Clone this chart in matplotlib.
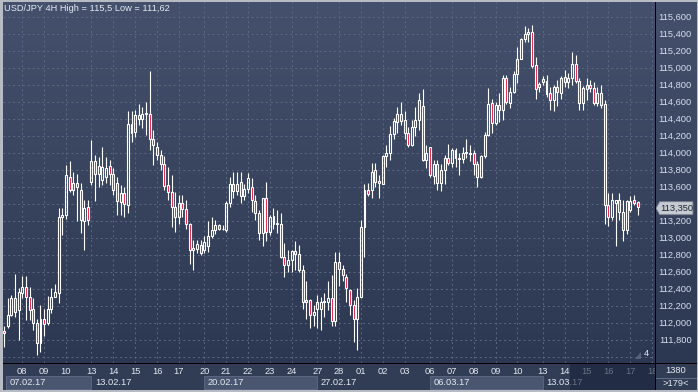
# USD/JPY 4H candlestick chart, dark terminal style
import numpy as np
import matplotlib.pyplot as plt
from matplotlib.patches import Rectangle, Polygon
from matplotlib.colors import LinearSegmentedColormap
from matplotlib.transforms import blended_transform_factory

TITLE = 'USD/JPY 4H High = 115,5 Low = 111,62'

opens = [111.90, 111.96, 112.09, 112.29, 112.15, 112.35, 112.42, 112.30, 112.17, 112.00,
         111.76, 112.05, 112.00, 112.16, 112.31, 112.35, 113.25, 113.27, 113.72, 113.56,
         113.65, 113.56, 113.20, 113.37, 113.66, 113.90, 113.75, 113.68, 113.72, 113.85,
         113.75, 113.65, 113.42, 113.53, 113.39, 114.34, 114.25, 114.45, 114.40, 114.46,
         114.46, 114.17, 114.07, 113.98, 113.87, 113.62, 113.54, 113.37, 113.25, 113.41,
         113.34, 113.17, 112.86, 112.87, 112.92, 112.86, 112.90, 113.02, 113.09, 113.15,
         113.10, 113.09, 113.41, 113.64, 113.55, 113.66, 113.49, 113.58, 113.60, 113.43,
         113.29, 113.06, 113.47, 113.07, 113.26, 113.17, 113.17, 112.78, 112.68, 112.74,
         112.85, 112.81, 112.62, 112.25, 112.27, 112.09, 112.16, 112.17, 112.25, 112.25,
         112.29, 112.02, 112.72, 112.64, 112.54, 112.39, 112.21, 112.05, 112.31, 113.13,
         113.57, 113.57, 113.80, 113.67, 113.64, 113.96, 114.00, 114.22, 114.37, 114.46,
         114.39, 114.24, 114.09, 114.30, 114.39, 114.55, 113.92, 114.07, 113.73, 113.87,
         113.65, 113.80, 113.94, 113.88, 114.04, 113.94, 113.93, 114.00, 114.00, 114.00,
         113.87, 113.72, 113.96, 114.21, 114.59, 114.35, 114.57, 114.51, 114.88, 114.59,
         114.72, 114.93, 115.11, 115.34, 115.40, 115.42, 115.04, 114.81, 114.84, 114.85,
         114.70, 114.62, 114.78, 114.71, 114.89, 114.83, 114.88, 115.05, 114.85, 114.59,
         114.75, 114.80, 114.76, 114.59, 114.70, 114.58, 113.39, 113.25, 113.41, 113.45,
         113.31, 113.09, 113.33, 113.45, 113.42]
highs = [111.96, 112.29, 112.33, 112.58, 112.41, 112.55, 112.55, 112.42, 112.29, 112.05,
         112.21, 112.16, 112.32, 112.41, 112.46, 113.35, 113.35, 113.86, 113.90, 113.78,
         113.75, 113.65, 113.45, 113.45, 114.15, 113.98, 113.95, 114.07, 113.95, 113.92,
         113.82, 113.72, 113.62, 113.60, 114.49, 114.49, 114.50, 114.58, 114.54, 114.60,
         114.96, 114.27, 114.13, 114.04, 113.96, 113.84, 113.74, 113.54, 113.51, 113.51,
         113.45, 113.18, 112.98, 112.98, 112.98, 113.02, 113.20, 113.25, 113.21, 113.17,
         113.15, 113.43, 113.72, 113.78, 113.78, 113.78, 113.64, 113.76, 113.70, 113.50,
         113.33, 113.47, 113.66, 113.27, 113.35, 113.33, 113.29, 112.94, 112.86, 112.86,
         112.96, 112.92, 112.68, 112.49, 112.28, 112.21, 112.33, 112.30, 112.35, 112.49,
         112.56, 112.84, 112.84, 112.68, 112.58, 112.40, 112.27, 112.41, 113.21, 113.64,
         113.65, 113.88, 113.88, 113.74, 113.98, 114.09, 114.32, 114.41, 114.54, 114.60,
         114.49, 114.31, 114.39, 114.54, 114.70, 114.75, 114.09, 114.07, 113.92, 113.92,
         113.87, 113.98, 114.11, 114.06, 114.06, 114.00, 114.07, 114.16, 114.09, 114.04,
         113.90, 113.98, 114.25, 114.76, 114.63, 114.60, 114.70, 114.92, 114.92, 114.78,
         114.96, 115.25, 115.35, 115.49, 115.47, 115.50, 115.13, 114.84, 114.90, 114.92,
         114.78, 114.80, 114.86, 114.90, 114.98, 114.94, 115.19, 115.15, 114.88, 114.79,
         114.88, 114.86, 114.84, 114.78, 114.80, 114.62, 113.53, 113.53, 113.45, 113.53,
         113.45, 113.45, 113.49, 113.51, 113.43]
lows = [111.72, 111.94, 112.08, 112.07, 111.80, 112.29, 112.04, 112.04, 111.92, 111.62,
        111.66, 111.85, 111.98, 112.12, 112.31, 112.23, 113.04, 113.22, 113.54, 113.50,
        113.20, 113.06, 112.86, 113.15, 113.62, 113.43, 113.60, 113.62, 113.65, 113.62,
        113.50, 113.27, 113.27, 113.25, 113.29, 114.13, 114.19, 114.33, 114.29, 114.21,
        114.04, 113.86, 113.92, 113.80, 113.56, 113.45, 113.13, 113.07, 113.17, 113.25,
        113.11, 112.69, 112.62, 112.82, 112.80, 112.82, 112.84, 113.00, 113.05, 113.09,
        113.09, 113.07, 113.37, 113.47, 113.50, 113.41, 113.45, 113.53, 113.31, 113.21,
        112.98, 112.90, 112.96, 113.03, 113.11, 113.06, 112.76, 112.54, 112.60, 112.60,
        112.62, 112.60, 112.17, 112.05, 111.94, 111.96, 111.94, 111.92, 112.07, 112.15,
        111.96, 111.96, 112.43, 112.49, 112.25, 112.09, 111.78, 111.68, 112.30, 112.78,
        113.49, 113.47, 113.60, 113.47, 113.64, 113.83, 113.92, 114.17, 114.24, 114.33,
        114.17, 114.07, 114.08, 114.20, 114.27, 113.91, 113.82, 113.72, 113.64, 113.57,
        113.55, 113.64, 113.86, 113.83, 113.83, 113.74, 113.88, 113.94, 113.90, 113.74,
        113.60, 113.70, 113.94, 114.20, 114.23, 114.33, 114.37, 114.39, 114.58, 114.53,
        114.70, 114.82, 115.10, 115.31, 115.31, 115.00, 114.64, 114.72, 114.80, 114.66,
        114.51, 114.49, 114.55, 114.64, 114.78, 114.76, 114.80, 114.82, 114.51, 114.51,
        114.62, 114.72, 114.57, 114.55, 114.53, 113.17, 113.14, 113.21, 112.90, 113.21,
        112.97, 113.05, 113.31, 113.39, 113.27]
closes = [111.88, 112.09, 112.29, 112.13, 112.37, 112.42, 112.31, 112.15, 112.00, 111.76,
          112.05, 111.99, 112.16, 112.31, 112.36, 113.25, 113.27, 113.74, 113.56, 113.65,
          113.60, 113.21, 113.35, 113.21, 113.90, 113.75, 113.85, 113.84, 113.82, 113.75,
          113.56, 113.43, 113.53, 113.40, 114.34, 114.23, 114.45, 114.40, 114.46, 114.47,
          114.17, 114.09, 113.98, 113.87, 113.61, 113.54, 113.37, 113.25, 113.41, 113.34,
          113.17, 112.86, 112.88, 112.93, 112.82, 112.95, 113.02, 113.09, 113.15, 113.11,
          113.11, 113.41, 113.64, 113.55, 113.64, 113.49, 113.58, 113.70, 113.45, 113.29,
          113.06, 113.47, 113.07, 113.25, 113.17, 113.18, 112.78, 112.68, 112.74, 112.85,
          112.81, 112.62, 112.25, 112.27, 112.09, 112.13, 112.25, 112.25, 112.25, 112.29,
          112.02, 112.72, 112.64, 112.56, 112.41, 112.21, 112.05, 112.31, 113.13, 113.57,
          113.52, 113.78, 113.66, 113.65, 113.96, 114.00, 114.22, 114.38, 114.46, 114.38,
          114.24, 114.09, 114.30, 114.39, 114.62, 113.92, 114.00, 113.74, 113.87, 113.65,
          113.80, 113.94, 113.88, 114.04, 113.94, 113.93, 114.00, 114.01, 113.99, 113.87,
          113.72, 113.96, 114.21, 114.58, 114.35, 114.57, 114.51, 114.88, 114.60, 114.72,
          114.93, 115.11, 115.34, 115.40, 115.42, 115.02, 114.75, 114.78, 114.87, 114.69,
          114.62, 114.78, 114.72, 114.88, 114.83, 114.88, 115.05, 114.85, 114.59, 114.76,
          114.80, 114.76, 114.59, 114.70, 114.57, 113.39, 113.25, 113.45, 113.45, 113.31,
          113.09, 113.43, 113.43, 113.41, 113.36]

day_labels = ['08', '09', '10', '13', '14', '15', '16', '17', '20', '21', '22', '23', '24',
              '27', '28', '01', '02', '03', '06', '07', '08', '09', '10', '13', '14', '15',
              '16', '17', '18']
day_pos = [5, 11, 17, 24, 30, 36, 42, 48, 55, 61, 67, 73, 79, 86, 92, 98, 104, 110,
           117, 123, 129, 135, 141, 148, 154, 160, 166, 172, 178]
week_labels = ['07.02.17', '13.02.17', '20.02.17', '27.02.17', '06.03.17', '13.03.17']
week_pos = [-7, 24, 55, 86, 117, 148]
# 113,400 sits under the last-price tag, so it is left out
price_ticks = [111.8, 112.0, 112.2, 112.4, 112.6, 112.8, 113.0, 113.2, 113.6,
               113.8, 114.0, 114.2, 114.4, 114.6, 114.8, 115.0, 115.2, 115.4, 115.6]
grid_levels = [111.6, 111.8, 112.0, 112.2, 112.4, 112.6, 112.8, 113.0, 113.2, 113.4,
               113.6, 113.8, 114.0, 114.2, 114.4, 114.6, 114.8, 115.0, 115.2, 115.4, 115.6]
last_price = 113.35

W, H = 698, 392
FONT = 'Liberation Sans'
FS = 6.7
RED = '#e8173c'
TXT = '#e4e9f1'


def box(x0, y0, x1, y1):
    # pixel box (top-left origin) -> figure fraction rect
    return [x0 / W, 1 - y1 / H, (x1 - x0) / W, (y1 - y0) / H]


def gradient(a, top='#45516c', bottom='#2c3751'):
    cmap = LinearSegmentedColormap.from_list('bg', [top, bottom])
    a.imshow(np.linspace(0, 1, 256).reshape(-1, 1), cmap=cmap, aspect='auto',
             extent=(0, 1, 0, 1), transform=a.transAxes, zorder=0)


def create():
    fig = plt.figure(figsize=(W / 100, H / 100), dpi=100)
    fig.patch.set_facecolor('#b6bbc4')

    ax = fig.add_axes(box(3, 2, 655, 363))
    axr = fig.add_axes(box(656, 2, 697, 363))
    axb = fig.add_axes(box(3, 364, 655, 390))
    axbr = fig.add_axes(box(656, 364, 697, 390))
    for a in (ax, axr, axb, axbr):
        a.set_axis_off()

    xlim = (-0.3, 178.8)
    ylim = (111.529, 115.776)

    # main plot
    gradient(ax)
    ax.set_xlim(xlim)
    ax.set_ylim(ylim)
    ax.hlines(grid_levels, xlim[0], xlim[1], colors='#5c6884', lw=0.7,
              linestyles=(0, (2, 3)), zorder=1)
    ax.vlines(day_pos, ylim[0], ylim[1], colors='#5c6884', lw=0.7,
              linestyles=(0, (2, 3)), zorder=1)

    o = np.array(opens)
    h = np.array(highs)
    lo = np.array(lows)
    c = np.array(closes)
    x = np.arange(len(o))
    top = np.maximum(o, c)
    bot = np.minimum(o, c)
    ax.vlines(x, top, h, colors='white', lw=0.8, zorder=3)
    ax.vlines(x, lo, bot, colors='white', lw=0.8, zorder=3)
    for i in x:
        fc = RED if c[i] < o[i] else 'none'
        ax.add_patch(Rectangle((i - 0.27, bot[i]), 0.54, max(top[i] - bot[i], 0.004),
                               facecolor=fc, edgecolor='white', lw=0.8, zorder=4))

    ax.text(0.002, 0.982, TITLE, transform=ax.transAxes, ha='left', va='center',
            fontsize=FS, color=TXT, family=FONT)
    ax.text(0.986, 0.014, '4', transform=ax.transAxes, ha='center', va='bottom',
            fontsize=FS, color=TXT, family=FONT)
    ax.add_patch(Polygon([(0.970, 0.012), (0.978, 0.012), (0.978, 0.030)], closed=True,
                         transform=ax.transAxes, facecolor='#56617b', edgecolor='none', zorder=5))

    # price scale
    gradient(axr)
    axr.set_ylim(ylim)
    axr.set_xlim(0, 1)
    for p in price_ticks:
        axr.text(0.47, p, f'{p:.3f}'.replace('.', ','), ha='center', va='center',
                 fontsize=FS, color='#d3deec', family=FONT)
    tr = blended_transform_factory(axr.transAxes, axr.transData)
    dh = 6.5 / 85
    tag = Polygon([(0.0, last_price), (0.09, last_price + dh), (0.9, last_price + dh),
                   (0.9, last_price - dh), (0.09, last_price - dh)], closed=True,
                  transform=tr, facecolor='#c6cad2', edgecolor='#7d8390', lw=0.6, zorder=5)
    axr.add_patch(tag)
    axr.text(0.5, last_price, f'{last_price:.3f}'.replace('.', ','), transform=tr,
             ha='center', va='center', fontsize=FS, color='#1f2633', family=FONT, zorder=6)

    # time scale
    axb.set_xlim(xlim)
    axb.set_ylim(0, 1)
    axb.add_patch(Rectangle((xlim[0], 0), xlim[1] - xlim[0], 1, facecolor='#313c55', zorder=0))
    for k in range(0, len(week_pos), 2):
        x0 = max(week_pos[k], 0.5)
        x1 = week_pos[k + 1] if k + 1 < len(week_pos) else xlim[1]
        axb.add_patch(Rectangle((x0, 0.03), x1 - x0, 0.52,
                                facecolor='#4a5670', edgecolor='#5f6b86', lw=0.6, zorder=1))
    for lab, p in zip(week_labels, week_pos):
        axb.text(max(p, 0.5) + 1.0, 0.28, lab, ha='left', va='center', fontsize=FS,
                 color=TXT, family=FONT, clip_on=True, zorder=2)
    for lab, p in zip(day_labels, day_pos):
        axb.text(p, 0.7, lab, ha='center', va='center', fontsize=FS, color=TXT,
                 family=FONT, clip_on=True, zorder=2)
    axb.add_patch(Rectangle((155.4, 0), xlim[1] - 155.4, 1, facecolor='#19223a',
                            alpha=0.6, zorder=3))

    # bottom right corner
    axbr.set_xlim(0, 1)
    axbr.set_ylim(0, 1)
    axbr.add_patch(Rectangle((0, 0), 1, 1, facecolor='#313c55', zorder=0))
    axbr.plot([0, 1], [0.47, 0.47], color='#6a7590', lw=0.6)
    axbr.text(0.47, 0.74, '1380', ha='center', va='center', fontsize=FS, color=TXT, family=FONT)
    axbr.text(0.47, 0.24, '>179<', ha='center', va='center', fontsize=FS, color=TXT, family=FONT)

    # black separators
    fig.add_artist(Rectangle((654.6 / W, 2 / H), 1.8 / W, 388 / H, transform=fig.transFigure,
                             facecolor='black', edgecolor='none'))
    fig.add_artist(Rectangle((3 / W, 1 - 364.2 / H), 694 / W, 1.6 / H, transform=fig.transFigure,
                             facecolor='black', edgecolor='none'))

    fig.savefig('out.png', dpi=100, facecolor=fig.get_facecolor())


if __name__ == "__main__":
    create()
